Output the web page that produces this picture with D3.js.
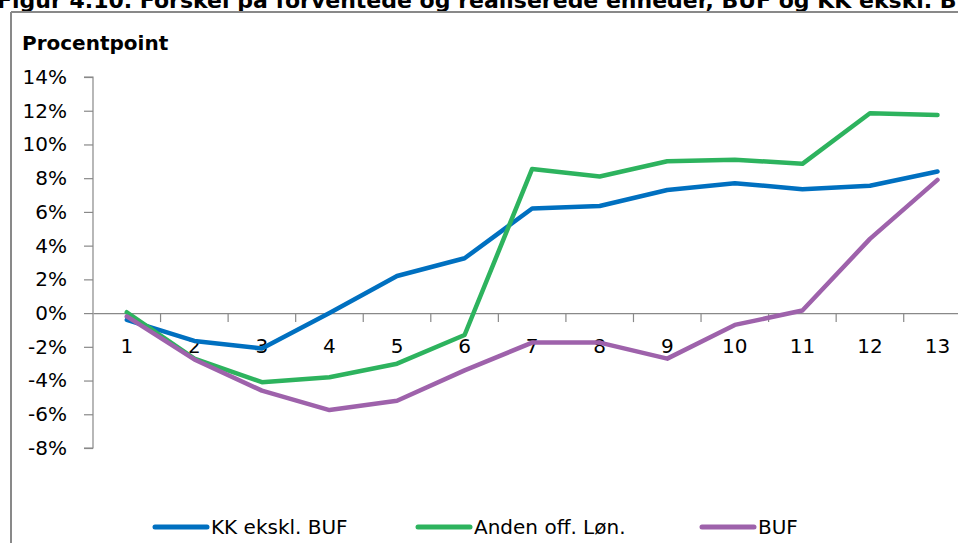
<!DOCTYPE html>
<html><head><meta charset="utf-8">
<script src="https://cdn.jsdelivr.net/npm/d3@7"></script>
<style>
html,body{margin:0;padding:0;background:#fff;}
svg{display:block;font-family:"DejaVu Sans",sans-serif;}
</style></head>
<body>
<svg id="c" width="958" height="543"></svg>
<script>
const categories = ["1","2","3","4","5","6","7","8","9","10","11","12","13"];
const kkEksklBuf = [-0.4,-1.65,-2.1,0.0,2.2,3.25,6.2,6.35,7.3,7.7,7.35,7.55,8.4];
const andenOffLon = [0.05,-2.7,-4.1,-3.8,-3.0,-1.3,8.55,8.1,9.0,9.1,8.85,11.85,11.75];
const buf = [-0.2,-2.75,-4.6,-5.75,-5.2,-3.4,-1.75,-1.75,-2.7,-0.7,0.15,4.4,7.9];
const yTicks = [-8,-6,-4,-2,0,2,4,6,8,10,12,14];
const seriesNames = ["KK ekskl. BUF","Anden off. Løn.","BUF"];
const titleText = "Figur 4.10. Forskel på forventede og realiserede enheder, BUF og KK ekskl. BUF";

const series = [
  {name: seriesNames[0], values: kkEksklBuf, color: "#0070C0"},
  {name: seriesNames[1], values: andenOffLon, color: "#2DB35E"},
  {name: seriesNames[2], values: buf, color: "#9E62AB"}
];

const svg = d3.select("#c");
const axisColor = "#898989";
const font = "'DejaVu Sans',sans-serif";

// Cropped title (cut off at top like the reference)
svg.append("text").attr("x", -3).attr("y", 8)
  .attr("font-size", 22).attr("font-weight", "bold").attr("fill", "#000")
  .text(titleText);

// Frame
svg.append("line").attr("x1", 11).attr("x2", 958).attr("y1", 12).attr("y2", 12)
  .attr("stroke", axisColor).attr("stroke-width", 2);
svg.append("line").attr("x1", 11).attr("x2", 11).attr("y1", 12).attr("y2", 543)
  .attr("stroke", axisColor).attr("stroke-width", 2);

svg.append("text").attr("x", 22).attr("y", 50)
  .attr("font-size", 20).attr("font-weight", "bold").attr("fill", "#000")
  .text("Procentpoint");

const x = d3.scaleBand().domain(categories).range([93, 93 + 67.56 * 13]);
const y = d3.scaleLinear().domain([-8, 14]).range([448, 77]);

// Y axis
const yAxis = svg.append("g").attr("transform", "translate(93,0)")
  .call(d3.axisLeft(y).tickValues(yTicks).tickSize(9).tickPadding(17)
    .tickFormat(d => d + "%"));
yAxis.select(".domain").attr("stroke", axisColor).attr("stroke-width", 1.2)
  .attr("d", `M-9,${y(14)}H0V${y(-8)}H-9`);
yAxis.selectAll(".tick line").attr("stroke", axisColor).attr("stroke-width", 1.2);
yAxis.selectAll(".tick text").attr("font-size", 20).attr("fill", "#000")
  .attr("font-family", font);

// X axis at zero
const xAxis = svg.append("g").attr("transform", `translate(0,${y(0)})`)
  .call(d3.axisBottom(x).tickSize(0).tickPadding(26));
xAxis.select(".domain").attr("stroke", axisColor).attr("stroke-width", 1.2);
xAxis.selectAll(".tick text").attr("font-size", 20).attr("fill", "#000")
  .attr("font-family", font);
// boundary ticks
xAxis.selectAll(".bt").data(categories).enter().append("line")
  .attr("class", "bt")
  .attr("x1", d => x(d) + x.bandwidth())
  .attr("x2", d => x(d) + x.bandwidth())
  .attr("y1", 0).attr("y2", 9)
  .attr("stroke", axisColor).attr("stroke-width", 1.2);

// Lines
const line = d3.line()
  .x((d, i) => x(categories[i]) + x.bandwidth() / 2)
  .y(d => y(d));
svg.selectAll(".series").data(series).enter().append("path")
  .attr("class", "series")
  .attr("d", d => line(d.values))
  .attr("fill", "none").attr("stroke", d => d.color)
  .attr("stroke-width", 4.5).attr("stroke-linejoin", "round").attr("stroke-linecap", "round");

// Legend
const legendX = [155, 418, 702];
const lg = svg.selectAll(".lg").data(series).enter().append("g")
  .attr("class", "lg").attr("transform", (d, i) => `translate(${legendX[i]},527)`);
lg.append("line").attr("x1", 0).attr("x2", 52).attr("y1", 0).attr("y2", 0)
  .attr("stroke", d => d.color).attr("stroke-width", 5).attr("stroke-linecap", "round");
lg.append("text").attr("x", 56).attr("y", 7).attr("font-size", 20).attr("fill", "#000")
  .text(d => d.name);
</script>
</body></html>
